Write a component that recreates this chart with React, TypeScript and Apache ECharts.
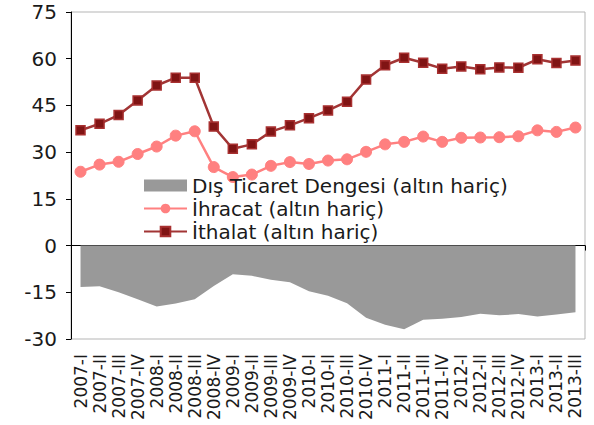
import React, { useEffect, useRef } from "react";
import * as echarts from "echarts";

const categories = [
  "2007-I", "2007-II", "2007-III", "2007-IV",
  "2008-I", "2008-II", "2008-III", "2008-IV",
  "2009-I", "2009-II", "2009-III", "2009-IV",
  "2010-I", "2010-II", "2010-III", "2010-IV",
  "2011-I", "2011-II", "2011-III", "2011-IV",
  "2012-I", "2012-II", "2012-III", "2012-IV",
  "2013-I", "2013-II", "2013-III",
];

const balance = [
  -13.3, -13.1, -15.0, -17.2, -19.6, -18.6, -17.2, -13.0, -9.2, -9.7,
  -11.0, -11.8, -14.7, -16.1, -18.5, -23.2, -25.4, -26.9, -23.8, -23.5,
  -22.9, -21.9, -22.4, -22.0, -22.8, -22.1, -21.4,
];

const exports = [
  23.7, 26.0, 26.9, 29.4, 31.8, 35.3, 36.7, 25.2, 22.0, 22.8,
  25.6, 26.8, 26.2, 27.3, 27.7, 30.1, 32.5, 33.3, 35.0, 33.3,
  34.6, 34.7, 34.8, 35.1, 37.0, 36.5, 37.9,
];

const imports = [
  37.0, 39.1, 41.9, 46.6, 51.4, 53.9, 53.9, 38.2, 31.1, 32.5,
  36.6, 38.6, 40.9, 43.4, 46.2, 53.3, 57.9, 60.3, 58.7, 56.8,
  57.5, 56.6, 57.2, 57.1, 59.8, 58.6, 59.4,
];

const seriesNames = [
  "Dış Ticaret Dengesi (altın hariç)",
  "İhracat (altın hariç)",
  "İthalat (altın hariç)",
];

const FONT = "DejaVu Sans";

export default function App() {
  const ref = useRef<HTMLDivElement>(null);
  useEffect(() => {
    if (!ref.current) return;
    const chart = echarts.init(ref.current, undefined, { renderer: "svg" });
    chart.setOption({
      animation: false,
      textStyle: { fontFamily: FONT },
      grid: {
        left: 71,
        right: 9,
        top: 12,
        bottom: 86,
        containLabel: false,
        outerBoundsMode: "none",
        show: true,
        borderColor: "#b5b5b5",
        borderWidth: 1,
        backgroundColor: "transparent",
      },
      legend: {
        orient: "vertical",
        left: 138,
        top: 170,
        itemWidth: 43,
        itemHeight: 12,
        itemGap: 2,
        textStyle: {
          fontFamily: FONT,
          fontSize: 20,
          color: "#1a1a1a",
          lineHeight: 21,
        },
        data: [
          { name: seriesNames[0], icon: "rect" },
          { name: seriesNames[1] },
          { name: seriesNames[2] },
        ],
      },
      xAxis: [
        {
          type: "category",
          data: categories,
          position: "bottom",
          axisLine: { onZero: true, lineStyle: { color: "#000", width: 1 } },
          axisTick: {
            show: true,
            interval: 1,
            length: 5,
            inside: false,
            lineStyle: { color: "#000" },
          },
          axisLabel: { show: false },
          splitLine: { show: false },
        },
        {
          type: "category",
          data: categories,
          position: "bottom",
          axisLine: { show: false, onZero: false },
          axisTick: { show: false },
          axisLabel: {
            show: true,
            interval: 0,
            rotate: 90,
            margin: 15,
            fontFamily: FONT,
            fontSize: 17,
            color: "#1a1a1a",
          },
          splitLine: { show: false },
        },
      ],
      yAxis: {
        type: "value",
        min: -30,
        max: 75,
        interval: 15,
        axisLine: { show: true, lineStyle: { color: "#000", width: 1 } },
        axisTick: { show: true, length: 5, lineStyle: { color: "#000" } },
        axisLabel: {
          margin: 14,
          fontFamily: FONT,
          fontSize: 20,
          color: "#1a1a1a",
        },
        splitLine: { show: false },
      },
      series: [
        {
          name: seriesNames[0],
          type: "line",
          data: balance,
          xAxisIndex: 0,
          symbol: "none",
          lineStyle: { width: 0, color: "#999999" },
          itemStyle: { color: "#999999" },
          areaStyle: { color: "#999999", opacity: 1 },
          z: 1,
        },
        {
          name: seriesNames[1],
          type: "line",
          data: exports,
          xAxisIndex: 0,
          symbol: "circle",
          symbolSize: 11,
          lineStyle: { width: 2.5, color: "#ff8080" },
          itemStyle: { color: "#ff8080", borderColor: "#ff8080" },
          z: 3,
        },
        {
          name: seriesNames[2],
          type: "line",
          data: imports,
          xAxisIndex: 0,
          symbol: "rect",
          symbolSize: 9,
          lineStyle: { width: 2.5, color: "#a23535" },
          itemStyle: { color: "#801414", borderColor: "#a83030", borderWidth: 1.5 },
          z: 4,
        },
      ],
    });
    return () => chart.dispose();
  }, []);
  return (
    <div
      ref={ref}
      style={{ position: "absolute", left: 0, top: 0, width: 594, height: 425 }}
    />
  );
}
